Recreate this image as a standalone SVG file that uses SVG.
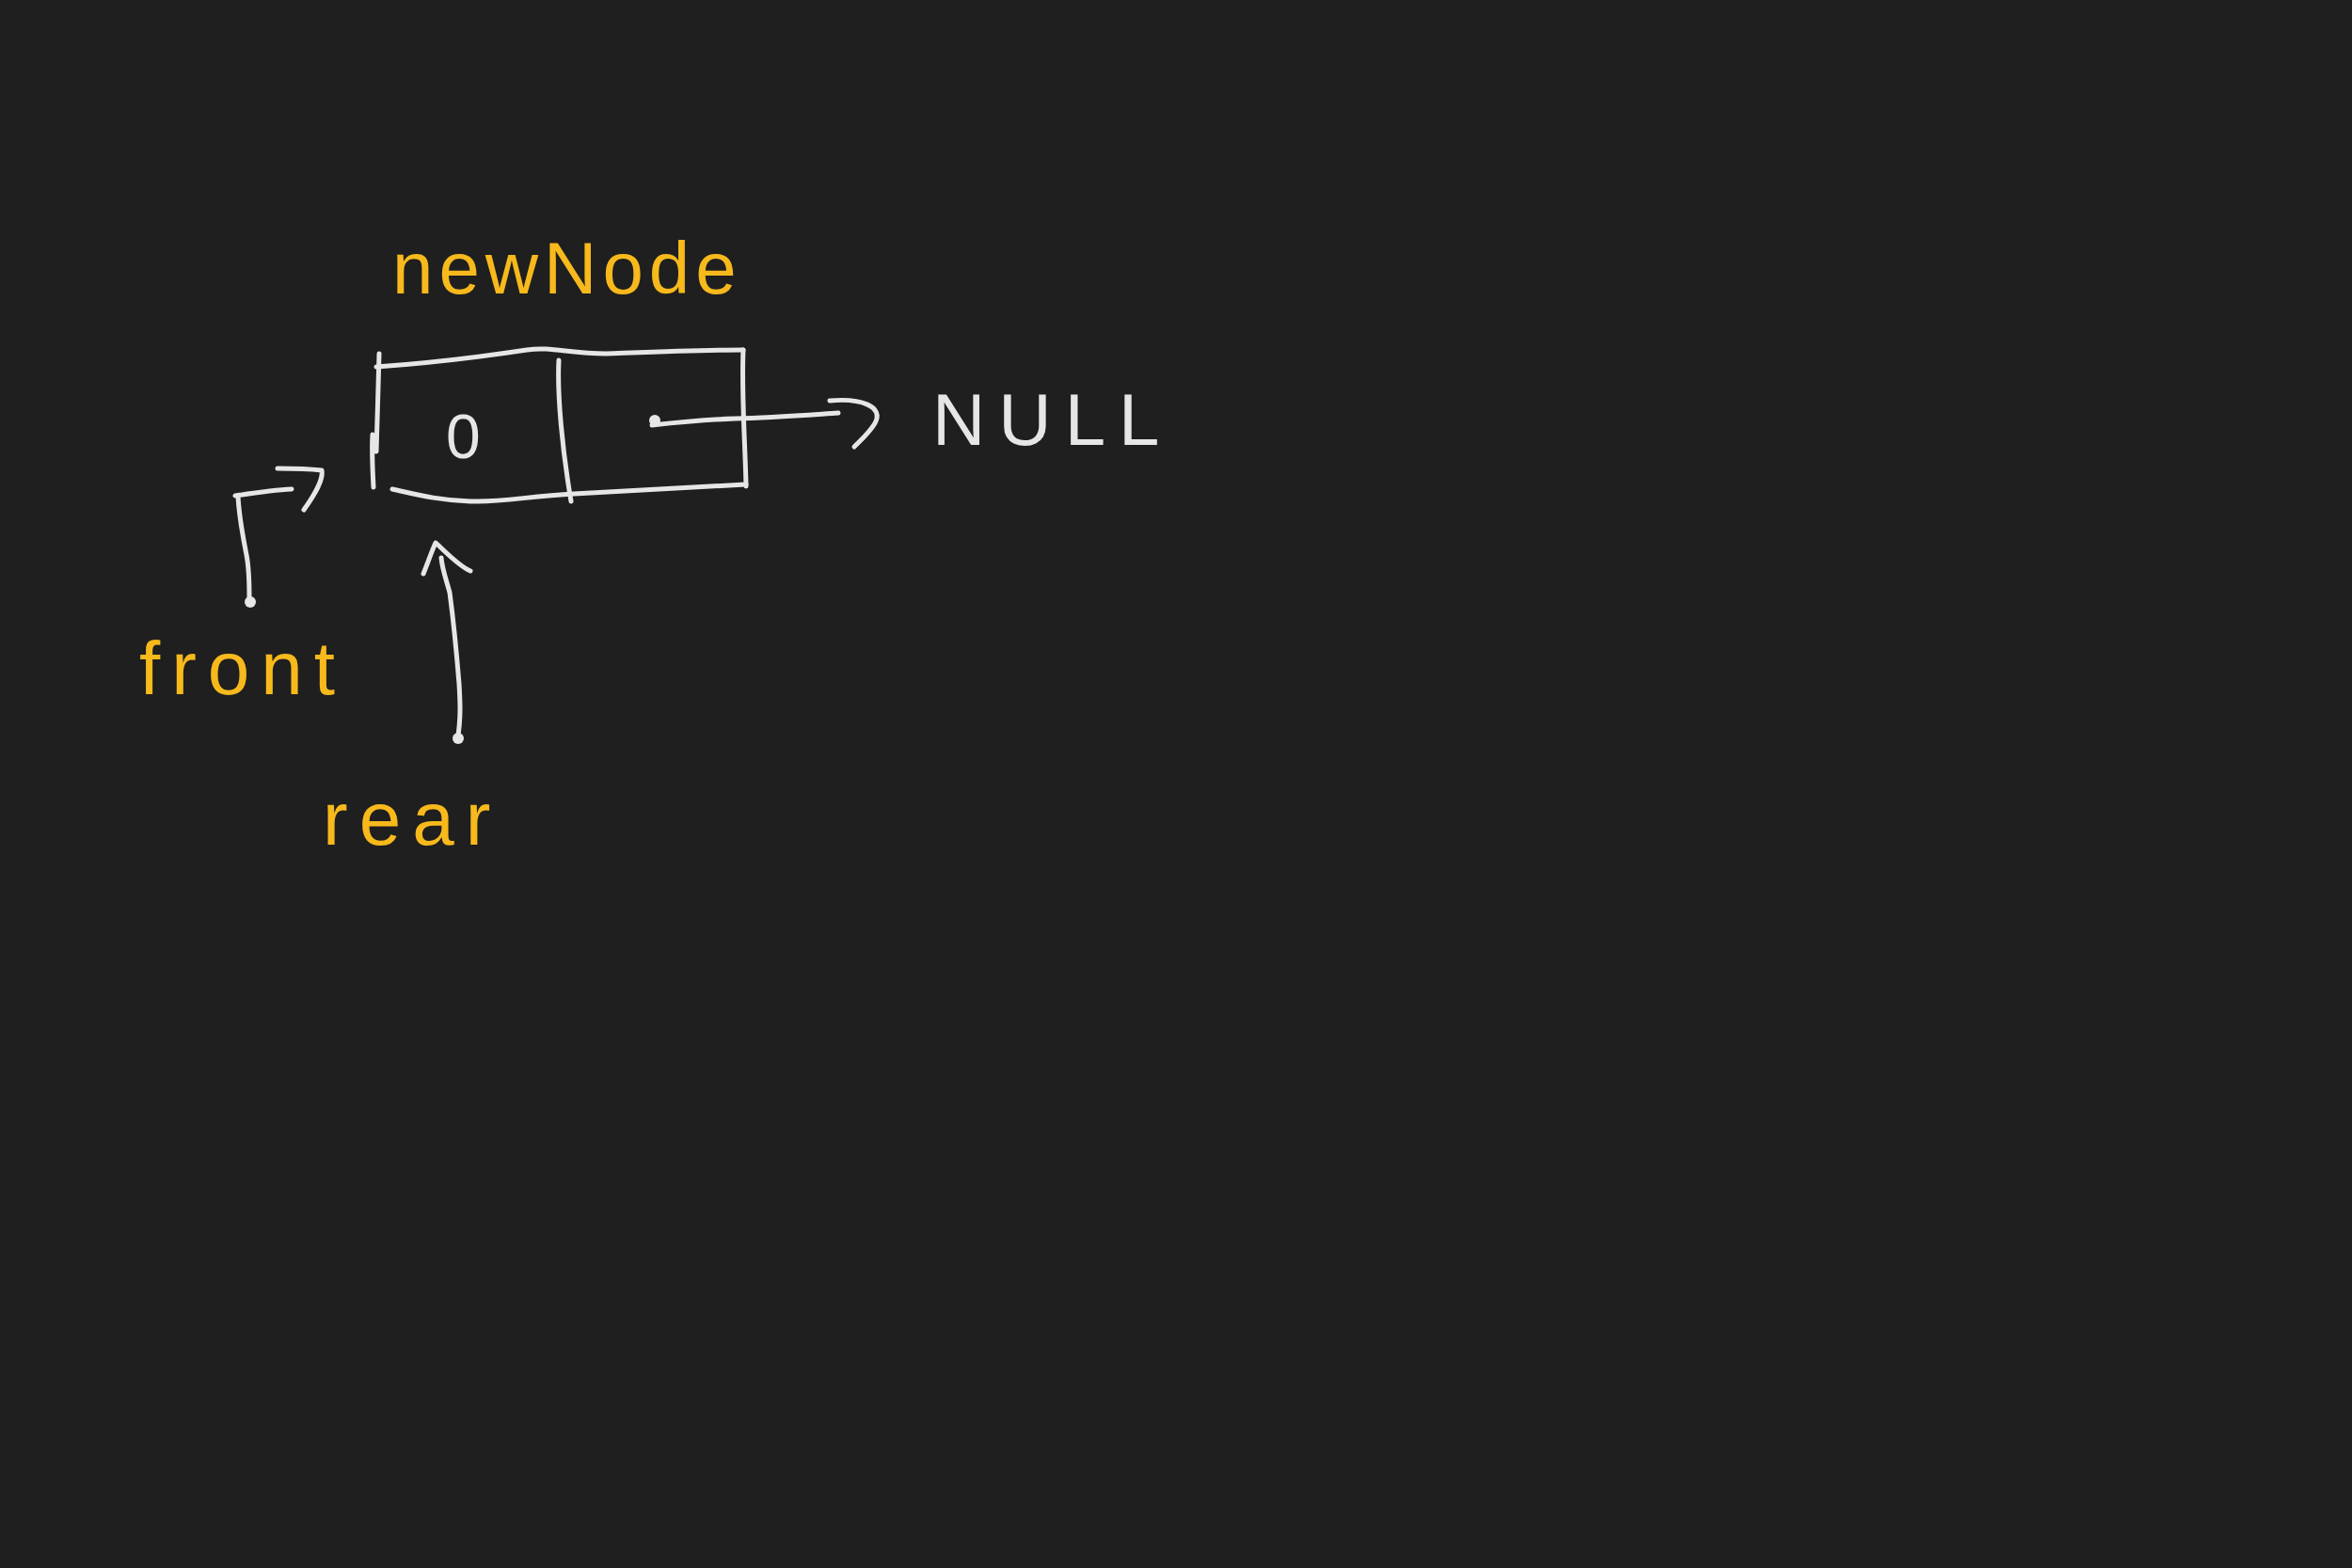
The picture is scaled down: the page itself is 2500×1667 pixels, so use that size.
<svg xmlns="http://www.w3.org/2000/svg" width="2500" height="1667" viewBox="0 0 2500 1667">
<style>
.ln{fill:none;stroke:#e6e6e6;stroke-width:5;stroke-linecap:round;stroke-linejoin:round}
.dot{fill:#e6e6e6}
.lbl{font-family:"Liberation Sans","DejaVu Sans",sans-serif;fill:#f7b91c}
.val{font-family:"Liberation Sans","DejaVu Sans",sans-serif;fill:#e6e6e6}
</style>
<rect x="0" y="0" width="2500" height="1667" fill="#1f1f1f"/>
<g id="label-newNode"><text class="lbl" x="417" y="312" font-size="78" letter-spacing="6">newNode</text></g>
<g id="node-newNode">
<path class="ln" d="M400,390 C470,385 520,378 560,372 C585,368 605,376 644,376 C700,374 750,372 790,372"/>
<path class="ln" d="M790,372 C788,420 792,470 793,517"/>
<path class="ln" d="M793,515 C730,518 670,522 610,525 C560,528 530,534 500,533 C465,532 440,525 417,520"/>
<path class="ln" d="M403,376 C402,410 401,450 400,480"/>
<path class="ln" d="M396,462 C395,480 396,500 397,518"/>
<path class="ln" d="M594,383 C592,420 598,480 607,533"/>
<text class="val" x="474" y="487" font-size="66">0</text>
</g>
<g id="node-NULL"><text class="val" x="991" y="473" font-size="78" letter-spacing="14">NULL</text></g>
<g id="label-front"><text class="lbl" x="148" y="738" font-size="80" letter-spacing="12">front</text></g>
<g id="label-rear"><text class="lbl" x="343" y="898" font-size="80" letter-spacing="12">rear</text></g>
<g id="connectors">
<circle class="dot" cx="696" cy="447" r="6"/>
<path class="ln" d="M693,452 C720,449 750,446 782,445 C820,444 860,441 891,439"/>
<path class="ln" d="M882,426 C915,423 940,432 930,450 C924,460 916,467 908,475"/>
<circle class="dot" cx="266" cy="640" r="6"/>
<path class="ln" d="M265,637 C265,615 264,600 262,590 C258,570 254,545 253,528 L250,527 C270,524 290,521 310,520"/>
<path class="ln" d="M295,498 C310,498 325,498 342,500 C344,510 335,525 323,542"/>
<circle class="dot" cx="487" cy="785" r="6"/>
<path class="ln" d="M487,782 C490,760 489,745 488,727 C485,690 482,660 478,630 C474,615 470,605 469,593"/>
<path class="ln" d="M450,610 C455,598 458,588 463,577 C475,588 488,602 500,607"/>
</g>
</svg>
